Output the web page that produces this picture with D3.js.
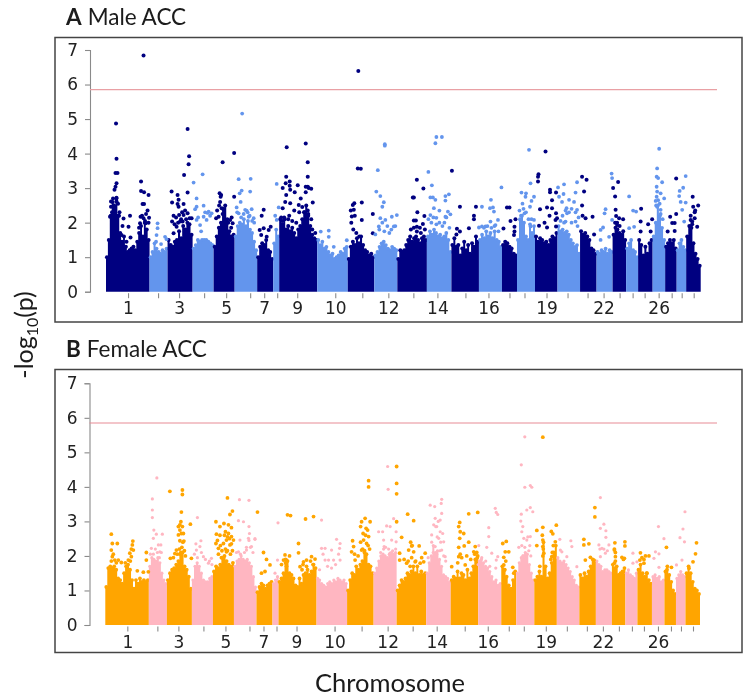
<!DOCTYPE html>
<html><head><meta charset="utf-8">
<script src="https://cdn.jsdelivr.net/npm/d3@7/dist/d3.min.js"></script>
<style>html,body{margin:0;padding:0;background:#fff}svg{display:block}</style>
</head><body><div id="chart"></div>
<script>
// Chromosome lengths in genome units, tick locations and labels
const chrLengths=[87,36,50,42,42,45,32,12,76,61,53,46,59,49,55,46,30,36,45,45,33,32,27,24,29,25,23,19,29];
const tickPositions=[44,104,146,196,240,288,316,342,382,458,512,564,614,662,718,764,806,836,880,922,962,994,1026,1052,1076,1104,1130,1150,1174];
const chrNames=[1,2,3,4,5,6,7,8,9,10,11,12,13,14,15,16,17,18,19,20,21,22,23,24,25,26,27,28,29];
const shownChr=[1,3,5,7,9,10,12,14,16,19,22,26];
const yTicks=[0,1,2,3,4,5,6,7];
const threshold=5.85;

// Top edge of the solid mass of SNPs along each chromosome, -log10(p)
const maleBody=[
[1.0,1.5,2.2,2.6,2.4,2.7,2.2,1.7,1.45,1.6,1.3,1.15,1.2,1.25,1.3,1.2,1.45,1.7,1.9,1.6,2.0,1.8,1.5],
[1.0,1.15,1.4,1.25,1.15,1.1,1.2,1.15,1.25],
[1.5,1.35,1.3,1.45,1.5,1.75,1.55,1.9,1.8,2.0,1.95,1.65],
[1.25,1.35,1.5,1.45,1.5,1.5,1.5,1.45,1.4,1.35],
[1.3,1.6,1.85,2.0,2.4,2.5,2.1,1.75,1.6,1.65],
[1.6,1.9,2.0,1.95,2.1,1.9,2.05,1.8,1.7,1.45,1.2],
[1.0,1.3,1.4,1.35,1.5,1.2,1.15,0.95],
[1.4,1.8,1.6],
[2.1,1.95,2.15,1.8,1.9,1.75,1.85,1.7,1.55,1.8,1.9,2.1,2.3,2.5,2.2,1.9,1.65,1.55,1.5],
[1.5,1.35,1.45,1.25,1.3,1.15,1.05,1.1,0.95,1.0,1.05,1.15,1.1,1.25,1.3],
[0.95,1.3,1.45,1.35,1.55,1.4,1.6,1.35,1.2,1.15,1.05,1.1,1.0],
[1.05,1.15,1.3,1.4,1.45,1.35,1.25,1.2,1.3,1.25,1.2],
[0.95,1.2,1.15,1.2,1.35,1.5,1.6,1.45,1.55,1.6,1.5,1.4,1.55,1.6,1.5],
[1.6,1.75,1.65,1.8,1.7,1.6,1.65,1.55,1.6,1.7,1.5,1.15],
[1.35,1.55,1.3,1.35,1.05,1.25,1.45,1.2,1.35,1.1,1.4,1.3,1.6,1.45],
[1.5,1.65,1.55,1.75,1.6,1.7,1.55,1.75,1.5,1.45,1.3],
[1.35,1.45,1.4,1.3,1.25,1.1,1.05],
[1.5,2.1,2.2,2.0,1.6,1.5,1.95,1.7,1.9],
[1.6,1.45,1.55,1.5,1.4,1.45,1.35,1.5,1.6,1.55,1.7],
[1.9,1.75,1.8,1.7,1.75,1.65,1.5,1.4,1.3,1.35,1.1],
[1.75,1.65,1.7,1.6,1.5,1.25,1.2,1.1],
[1.15,1.1,1.2,1.15,1.25,1.1,1.2,1.15],
[1.65,1.85,1.8,1.7,1.65,1.75,1.5],
[1.25,1.4,1.5,1.2,1.15,1.0],
[1.5,1.35,1.05,1.3,1.1,1.4,1.5],
[1.6,2.0,2.5,2.2,1.85,1.5],
[1.3,1.4,1.5,1.4,1.5,1.25],
[1.2,1.4,1.5,1.3,1.2],
[1.6,1.9,1.85,1.4,1.1,0.95,0.75]];

const femaleBody=[
[1.1,1.65,1.7,1.65,1.7,1.6,1.35,1.3,1.2,1.5,1.7,1.75,1.6,1.3,1.05,1.3,1.2,1.35,1.25,1.3,1.25,1.3],
[1.7,1.95,1.9,1.85,1.95,1.8,1.5,1.3,1.2],
[1.3,1.5,1.6,1.65,1.75,1.85,2.05,2.1,1.7,1.6,1.4,1.05],
[1.3,1.7,1.8,1.7,1.5,1.3,1.25,1.25,1.35,1.4],
[1.55,1.7,1.65,1.75,1.95,2.0,1.85,1.75,1.7,1.8],
[1.7,1.85,1.9,2.0,1.9,1.85,1.9,1.8,1.7,1.4,1.1],
[0.95,1.1,1.2,1.15,1.05,1.15,1.2,1.25],
[1.2,1.3,1.4],
[1.25,1.35,1.5,1.8,1.85,1.5,1.45,1.35,1.15,1.1,1.35,1.2,1.45,1.5,1.6,1.45,1.55,1.75,1.65],
[1.35,1.3,1.2,1.15,1.1,1.2,1.25,1.2,1.3,1.25,1.35,1.3,1.25,1.3,1.2],
[1.0,1.3,1.5,1.45,1.7,1.6,1.75,1.85,2.1,2.05,1.75,1.7,1.5],
[1.5,1.65,1.85,2.0,2.05,2.0,1.95,2.05,2.1,2.05,2.1],
[1.0,1.15,1.3,1.25,1.35,1.5,1.45,1.55,1.7,1.5,1.7,1.45,1.55,1.45,1.5],
[1.5,1.8,2.0,2.3,2.1,2.15,1.9,1.7,1.45,1.4,1.35,1.25],
[1.3,1.4,1.35,1.55,1.35,1.5,1.45,1.3,1.6,1.35,1.5,1.7,1.9,1.95],
[1.85,1.9,1.8,1.7,1.65,1.55,1.4,1.25,1.3,1.15,1.2],
[1.7,1.6,1.4,1.15,1.05,1.3,1.55],
[1.5,1.8,1.95,2.0,2.1,2.05,1.75,1.5,1.3],
[1.3,1.4,1.55,1.4,2.4,1.7,1.35,1.5,1.8,2.1,2.3],
[1.95,1.85,1.8,1.85,1.75,1.65,1.55,1.4,1.3,1.15,1.1],
[1.45,1.35,1.5,1.4,1.55,1.7,1.9,1.85],
[1.85,1.75,1.7,1.55,1.6,1.6,1.55,1.5],
[1.75,1.65,1.7,1.45,1.5,1.55,1.65],
[1.5,1.6,1.45,1.4,1.35,1.5],
[1.6,1.75,1.5,1.4,1.5,1.3,1.2],
[1.4,1.45,1.35,1.4,1.25,1.3],
[1.55,1.7,1.45,1.25,1.0,0.9],
[1.35,1.45,1.55,1.45,1.4],
[1.5,1.7,1.5,1.25,1.05,1.0,0.9]];

// Individual SNPs standing above the mass: [genome position, -log10(p)]
const maleSnps=[
[75,6.84],[20,4.87],[21,3.85],[19,3.44],[23,3.44],[21,3.14],[19,3.04],[17,2.95],[21,2.72],[10,2.61],[21,2.61],[10,2.46],[18,2.46],[8,2.17],[35,2.12],[48,2.2],[45,1.88],[33,1.9],[31,1.64],[49,1.57],[41,1.45],
[12,2.3],[16,2.5],[24,2.55],[27,2.3],[14,2.7],[26,2.2],[72,2.2],[80,2.25],[66,1.85],[85,2.0],[78,2.05],
[70,3.19],[70,2.92],[76,2.88],[85,2.8],[73,2.54],[76,2.54],[83,2.35],[69,2.17],[75,2.13],[86,2.14],[79,1.98],[68,1.98],
[103,1.98],[103,1.84],[101,1.64],[118,1.59],[121,1.52],[110,1.38],[100,1.45],
[131,2.9],[143,2.8],[132,2.58],[145,2.66],[143,2.54],[155,2.54],[145,2.46],[146,2.22],[155,2.22],[132,2.03],[141,1.88],[153,2.03],[163,4.71],[166,3.92],[165,3.69],[156,3.38],[163,2.87],[163,2.27],[171,2.13],[167,2.13],[135,1.69],[148,2.03],
[135,2.2],[140,2.15],[150,2.1],[158,2.35],[144,2.0],[160,2.1],[137,1.95],[152,2.3],
[193,3.4],[175,3.16],[181,2.7],[195,2.49],[181,2.46],[178,2.39],[205,2.32],[211,2.27],[195,2.17],[181,2.08],[188,1.93],[201,2.08],
[184,2.15],[190,1.75],[198,2.3],[203,2.28],[208,2.2],
[233,3.75],[256,4.02],[227,2.85],[230,2.8],[228,2.6],[231,2.42],[225,2.17],[220,2.13],[256,2.75],[251,2.15],[248,2.08],[253,1.98],
[222,2.35],[226,2.5],[229,2.75],[233,2.25],[244,2.0],[250,1.85],
[272,5.16],[265,3.26],[289,3.27],[271,2.93],[288,2.9],[267,2.85],[269,2.6],[261,2.44],[278,2.37],[291,2.39],[265,2.27],[285,2.17],[295,2.13],
[262,2.3],[270,2.15],[275,2.25],[283,2.3],[287,2.2],[292,2.05],[296,2.0],[281,2.35],
[315,2.37],[311,2.2],[307,1.79],[315,1.84],[329,1.88],[325,1.79],[310,1.64],[321,1.59],
[341,3.12],[345,2.44],[338,2.2],[341,2.08],
[361,4.18],[399,4.29],[403,3.75],[360,3.33],[403,3.33],[359,3.14],[367,3.19],[367,3.07],[383,3.08],[353,3.0],[368,2.95],[399,3.04],[403,3.04],[405,3.0],[410,2.98],[360,2.8],[377,2.88],[399,2.88],[389,2.7],[413,2.58],[368,2.56],[385,2.51],[353,2.42],[403,2.35],
[350,2.15],[357,2.1],[364,2.1],[372,2.05],[380,2.0],[386,2.3],[392,2.45],[396,2.3],[404,2.25],[410,2.1],[358,2.6],[366,2.2],[376,2.35],[352,2.05],[412,1.8],[418,1.7],
[429,1.74],[445,1.77],[445,1.59],[455,1.3],[481,1.49],
[504,6.39],[503,3.57],[509,3.56],[496,2.56],[493,2.51],[511,2.58],[489,2.35],[495,2.37],[491,2.18],[511,2.08],[533,2.25],[533,1.69],
[490,2.0],[494,1.8],[500,1.7],[506,1.6],[497,2.2],
[557,4.27],[557,4.23],[543,3.52],[540,2.9],[548,2.77],[555,2.59],[552,2.46],[571,2.17],[581,2.22],[548,2.13],[545,1.89],[558,2.08],[575,1.89],[538,1.66],
[546,1.8],[552,2.0],[562,1.9],[566,1.7],[570,1.8],[578,1.9],[556,1.75],
[621,3.24],[634,2.99],[613,2.73],[615,2.73],[622,2.3],[636,2.19],[615,2.06],[619,2.06],[633,1.96],[621,1.88],[621,1.74],
[609,1.8],[615,1.85],[627,1.85],[637,1.8],[629,1.7],
[660,4.48],[671,4.48],[658,4.3],[644,3.47],[691,3.5],[651,3.08],[648,2.73],[653,2.73],[658,2.66],[685,2.82],[678,2.77],[678,2.64],[655,2.42],[666,2.35],[683,2.32],[688,2.24],[648,2.22],[660,2.14],[678,2.17],
[644,2.1],[650,2.0],[654,2.15],[660,1.95],[666,2.0],[672,1.9],[680,2.15],[676,2.0],[686,1.85],
[707,2.46],[739,2.46],[735,2.2],[735,2.1],[701,1.82],[707,1.74],[725,1.84],[745,1.86],[700,1.66],
[790,3.02],[769,2.66],[751,2.46],[767,2.42],[773,2.44],[775,2.32],[783,2.08],[768,2.03],[758,1.89],[751,1.89],[778,1.93],
[755,1.85],[762,1.9],[770,1.85],[776,1.9],[784,1.75],
[801,2.44],[806,2.44],[818,2.1],[808,2.05],[816,1.88],[816,1.74],[794,1.83],[815,1.64],
[845,4.11],[830,2.87],[839,2.85],[848,3.14],[855,2.75],[850,2.63],[838,2.75],[826,2.35],[836,2.27],[847,2.46],[855,2.08],[828,2.08],[848,1.89],
[832,2.55],[834,2.4],[829,2.2],[839,2.3],[844,2.1],[850,2.1],
[878,4.06],[864,3.4],[863,3.33],[863,3.19],[887,2.95],[887,2.88],[903,3.02],[899,2.87],[891,2.65],[867,2.39],[881,2.44],[891,2.42],[899,2.27],[886,2.2],[865,1.91],[876,2.0],[881,1.86],[898,2.08],[901,2.13],[899,1.89],
[915,3.11],[914,2.83],[941,3.17],[938,2.87],[905,2.75],[911,2.6],[925,2.66],[935,2.6],[920,2.42],[941,2.37],[921,2.27],[938,2.03],[918,2.03],
[912,2.2],[918,2.35],[925,2.3],[930,2.4],[938,2.3],[944,2.15],[908,2.05],[915,2.0],[930,2.0],[942,1.9],
[951,3.33],[960,3.24],[955,2.9],[951,2.5],[952,2.2],[958,2.13],[972,2.17],[975,1.66],
[998,2.39],[996,2.27],[993,1.86],[988,1.79],[1011,2.08],[1005,1.59],[988,1.5],
[1010,3.42],[1011,3.29],[1023,3.18],[1013,3.0],[1017,2.76],[1018,2.37],[1019,2.19],[1033,2.1],[1025,2.13],[1021,1.93],
[1017,2.0],[1021,2.0],[1026,1.9],
[1045,2.76],[1053,2.35],[1059,2.32],[1055,1.88],[1045,1.84],
[1069,2.4],[1068,2.03],[1083,1.95],[1091,2.1],[1068,1.74],[1088,1.74],
[1105,4.14],[1101,3.57],[1100,3.33],[1103,3.29],[1111,3.17],[1100,3.04],[1101,2.9],[1108,2.85],[1115,2.7],[1098,2.63],[1108,2.37],[1101,2.46],
[1100,2.75],[1103,2.65],[1106,2.55],[1099,2.5],[1108,2.25],[1112,2.1],
[1139,3.28],[1127,2.17],[1122,1.74],[1131,1.99],[1136,1.99],[1139,2.25],[1136,1.76],
[1158,3.35],[1153,3.01],[1146,2.92],[1145,2.77],[1148,2.6],[1158,2.58],[1151,2.37],[1155,2.03],
[1172,2.75],[1183,2.5],[1173,2.46],[1177,2.35],[1176,2.13],[1168,2.08],[1181,1.88],[1171,2.03],
[1168,2.2],[1176,2.3],[1171,1.95]];

const femaleSnps=[
[12,2.63],[14,2.36],[24,2.36],[55,2.43],[54,2.32],[56,2.17],[49,2.08],[12,2.17],[14,1.98],[19,1.88],[26,1.88],[32,1.81],[46,1.88],[82,2.1],[82,1.88],[64,1.57],[76,1.53],[86,1.54],[52,1.98],
[12,1.85],[16,2.05],[52,2.2],[50,1.85],[40,1.8],[22,1.8],
[103,4.26],[94,3.65],[94,3.33],[94,3.11],[97,2.75],[102,2.63],[114,2.63],[96,2.51],[106,2.32],[111,2.32],[92,2.22],[109,2.12],
[100,2.2],[104,2.1],[96,2.05],[112,2.1],[108,1.95],[90,2.05],
[129,3.87],[154,3.91],[154,3.78],[152,3.27],[151,2.99],[170,2.92],[146,2.85],[154,2.85],[149,2.75],[156,2.65],[146,2.61],[149,2.44],[157,2.43],[172,1.93],[142,2.17],[130,1.93],[139,2.07],
[149,2.9],[152,2.65],[155,2.4],[148,2.2],[153,2.25],[158,2.15],[144,2.05],[160,2.0],[136,1.95],[151,2.1],
[184,3.11],[191,2.44],[181,2.35],[189,2.27],[182,2.17],[196,1.98],[212,1.93],[206,1.79],
[178,2.05],[184,1.95],[192,2.1],[200,1.9],[208,1.85],[213,1.75],
[244,3.68],[254,3.3],[249,3.2],[221,2.99],[237,2.94],[246,2.9],[229,2.85],[252,2.82],[222,2.63],[229,2.6],[246,2.65],[252,2.56],[221,2.36],[242,2.46],[236,2.36],[256,2.46],[249,2.32],[226,2.22],[242,2.12],
[224,2.45],[230,2.3],[233,2.15],[238,2.6],[240,2.7],[244,2.55],[248,2.5],[252,2.35],[240,2.2],[254,2.15],[226,2.05],[232,1.95],[244,2.15],[250,2.05],
[268,3.63],[287,3.61],[304,3.27],[266,3.02],[276,2.99],[287,2.85],[288,2.65],[286,2.51],[299,2.48],[299,2.5],[269,2.46],[266,2.12],[292,2.27],[282,2.17],
[262,2.1],[270,2.05],[278,2.1],[282,2.25],[290,2.25],[295,2.1],[287,2.45],
[316,2.1],[322,1.9],[329,1.74],[319,1.55],[312,1.5],
[345,2.96],[344,1.88],[339,1.5],
[364,3.19],[370,3.17],[400,3.07],[416,3.14],[386,2.36],[386,2.09],[359,2.03],[368,2.0],[356,1.88],[412,1.98],[419,1.91],[402,1.88],[396,1.83],[389,1.69],[362,1.88],
[352,1.75],[360,1.9],[362,1.7],[395,1.75],[402,1.7],[410,1.85],[415,1.75],[393,1.6],
[432,3.04],[462,2.48],[469,2.36],[468,2.22],[432,2.22],[439,2.22],[452,2.17],[456,1.88],[446,1.88],[469,1.88],[439,1.88],
[435,2.05],[444,1.7],[452,1.65],[460,1.75],[466,2.05],[428,1.6],
[526,4.18],[526,4.0],[519,3.09],[529,2.99],[512,2.99],[510,2.85],[521,2.8],[526,2.56],[516,2.46],[494,2.44],[496,2.27],[492,2.12],[499,1.88],[512,2.17],[522,2.36],
[515,2.65],[520,2.6],[525,2.3],[510,2.4],[505,2.0],[498,2.05],[514,2.2],[518,2.15],[524,2.75],[528,2.2],
[546,2.7],[564,4.59],[582,4.59],[582,4.1],[565,3.93],[582,3.8],[576,3.08],[582,2.99],[562,2.87],[569,2.85],[554,2.7],[581,2.7],[556,2.46],[572,2.46],[581,2.41],[557,2.27],[569,2.08],
[556,2.2],[560,2.25],[566,2.2],[574,2.15],[580,2.2],[550,2.1],
[604,3.21],[616,3.02],[592,2.54],[588,2.08],[588,1.88],[612,2.29],[627,2.29],[606,2.17],[616,2.12],[639,2.08],[619,1.83],[636,1.83],[602,1.79],[629,1.79],
[597,1.9],[605,1.85],[612,1.95],[620,1.85],[632,1.95],[609,1.7],[613,2.3],[610,2.4],
[672,3.64],[671,3.52],[649,3.47],[658,3.43],[672,3.23],[659,3.09],[669,3.04],[662,2.85],[669,2.7],[652,2.61],[674,2.65],[666,2.51],[676,2.41],[659,2.27],[672,2.17],[679,1.98],
[652,2.4],[656,2.9],[660,2.85],[665,3.0],[663,2.55],[670,2.4],[655,2.1],[662,2.05],[668,2.15],[676,2.0],[680,1.85],[645,1.95],
[726,3.22],[744,3.26],[708,2.97],[706,2.85],[709,2.7],[716,2.65],[708,2.51],[726,2.4],[717,2.29],[739,2.27],[746,2.3],[706,1.98],[736,2.12],[692,1.69],[719,1.74],
[706,2.25],[709,2.05],[712,1.95],[704,1.8],[730,1.9],[738,2.05],[742,2.1],[744,2.0],[722,2.0],[745,1.75],
[779,3.38],[784,3.2],[781,3.26],[766,2.82],[766,2.56],[762,2.25],[772,2.08],[784,1.98],[781,1.88],
[752,1.95],[760,1.85],[768,1.7],[780,1.65],
[801,2.42],[794,2.36],[799,2.12],[806,2.12],[796,1.96],[814,1.67],[796,1.74],[800,1.85],[798,1.6],[816,1.5],
[838,5.45],[831,4.64],[838,3.99],[849,4.04],[852,3.99],[849,3.4],[854,3.28],[831,3.21],[842,3.33],[830,3.01],[834,2.85],[832,2.7],[849,2.56],[836,2.51],[842,2.46],[826,2.25],[836,1.98],
[832,2.3],[838,2.25],[844,2.55],[848,2.3],[846,2.15],[850,2.0],[840,2.05],[834,2.0],
[874,5.44],[874,2.83],[862,2.74],[891,2.71],[901,2.89],[894,2.64],[874,2.46],[874,2.27],[899,2.41],[862,2.3],[876,2.08],[892,1.98],
[873,2.6],[875,2.2],[895,2.3],[893,2.1],[868,1.7],[890,1.9],[874,2.0],
[908,2.48],[930,2.44],[912,2.12],[922,1.98],[942,1.69],[932,2.27],[909,2.17],
[978,3.4],[978,3.13],[956,2.48],[966,2.35],[956,2.32],[969,1.96],[959,1.88],[976,1.88],
[989,3.69],[996,2.92],[989,2.8],[1000,2.73],[1000,2.54],[986,2.32],[992,2.22],[1006,2.32],[989,1.98],[999,2.08],[988,2.2],[996,2.2],[1003,2.15],
[1018,2.38],[1038,2.41],[1038,2.29],[1017,2.17],[1032,1.96],[1037,1.93],[1019,1.98],[1017,1.79],[1017,2.2],[1019,2.1],[1019,1.85],[1035,1.9],
[1054,2.08],[1062,1.83],[1054,1.79],
[1069,2.09],[1079,2.0],[1086,2.0],[1068,1.88],[1076,1.79],[1082,1.5],[1072,1.95],[1076,1.9],
[1105,2.85],[1116,2.5],[1099,2.12],[1106,2.06],[1096,1.93],[1106,1.67],
[1121,2.25],[1131,1.67],[1122,1.6],
[1158,3.28],[1154,2.78],[1148,2.53],[1157,2.41],[1152,1.88],[1141,1.74],
[1181,2.38],[1179,2.06],[1174,1.83],[1166,1.64]];

const colorsMale=["#000080","#6495ED"];
const colorsFemale=["#FFA500","#FFB6C1"];

const W=745,H=698;
const svg=d3.select("#chart").append("svg").attr("width",W).attr("height",H);
const defs=svg.append("defs");
defs.append("filter").attr("id","soft").attr("x","-2%").attr("y","-2%").attr("width","104%").attr("height","104%")
  .append("feGaussianBlur").attr("stdDeviation",0.4);
const root=svg.append("g").attr("filter","url(#soft)");

const chrEnds=Array.from(d3.cumsum(chrLengths));
const chrStarts=[0,...chrEnds.slice(0,-1)];
const chrOf=p=>Math.min(d3.bisectRight(chrEnds,p),chrLengths.length-1);
const textFont="Lato, 'Open Sans', sans-serif";
const numFont="'DejaVu Sans', sans-serif";

function panel(o){
  root.append("rect").attr("x",o.frame[0]).attr("y",o.frame[1]).attr("width",742-o.frame[0]).attr("height",o.frame[2]-o.frame[1])
    .attr("fill","#fff").attr("stroke","#444").attr("stroke-width",1.5);
  const t=root.append("text").attr("x",66).attr("y",o.titleY).attr("font-family",textFont).attr("font-size",22.5).attr("fill","#1a1a1a");
  t.append("tspan").attr("font-weight",700).text(o.letter);
  t.append("tspan").attr("dx",6).text(o.title);

  const x=d3.scaleLinear().domain([0,d3.sum(chrLengths)]).range(o.xRange);
  const y=d3.scaleLinear().domain([0,7]).range(o.yRange);

  const yAx=root.append("g").attr("transform",`translate(${o.axisX},0)`)
    .call(d3.axisLeft(y).tickValues(yTicks).tickSize(5).tickPadding(7).tickFormat(d3.format("d")));
  const xAx=root.append("g").attr("transform",`translate(0,${o.yRange[0]+1.5})`)
    .call(d3.axisBottom(x).tickValues(tickPositions).tickSize(5).tickPadding(4)
      .tickFormat((d,i)=>shownChr.includes(chrNames[i])?chrNames[i]:""));
  xAx.select(".domain").remove();
  [yAx,xAx].forEach(a=>{
    a.selectAll("line,path").attr("stroke","#8a8a8a").attr("stroke-width",1.1);
    a.selectAll("text").attr("font-family",numFont).attr("font-size",17).attr("fill","#222");
  });

  const area=d3.area().curve(d3.curveStepAfter).x(d=>x(d.p)).y0(y(0)).y1(d=>y(d.v));
  chrLengths.forEach((len,c)=>{
    const vals=o.body[c];
    const n=vals.length;
    const edges=vals.map((v,i)=>({p:chrStarts[c]+len*i/n,v})).concat([{p:chrStarts[c]+len,v:vals[n-1]}]);
    const tops=vals.map((v,i)=>({p:chrStarts[c]+len*(i+0.5)/n,v}));
    const col=o.colors[c%2];
    const r=c%2?o.r2:o.r;
    root.append("path").datum(edges).attr("d",area).attr("fill",col);
    root.append("g").selectAll("circle").data(tops).join("circle")
      .attr("cx",d=>x(d.p)).attr("cy",d=>y(d.v)).attr("r",r).attr("fill",col);
  });

  root.append("line").attr("x1",o.axisX).attr("x2",717).attr("y1",y(threshold)).attr("y2",y(threshold))
    .attr("stroke",o.lineColor).attr("stroke-width",1.2);

  root.append("g").selectAll("circle").data(o.snps).join("circle")
    .attr("cx",d=>x(d[0])).attr("cy",d=>y(d[1])).attr("r",d=>chrOf(d[0])%2?o.r2:o.r)
    .attr("fill",d=>o.colors[chrOf(d[0])%2]);
}

panel({frame:[55,37.5,322],titleY:25,letter:"A",title:"Male ACC",xRange:[106,700.7],yRange:[291.7,50],axisX:90,
  body:maleBody,snps:maleSnps,colors:colorsMale,lineColor:"#e9a0a4",r:2.0,r2:1.9});
panel({frame:[55,369.5,652.5],titleY:357,letter:"B",title:"Female ACC",xRange:[105.3,700],yRange:[625,383.3],axisX:89.5,
  body:femaleBody,snps:femaleSnps,colors:colorsFemale,lineColor:"#e88c96",r:1.9,r2:1.6});

const yl=root.append("text").attr("transform","translate(33,335) rotate(-90)").attr("text-anchor","middle")
  .attr("font-family",textFont).attr("font-size",25).attr("fill","#1a1a1a");
yl.append("tspan").text("-log");
yl.append("tspan").attr("font-size",16).attr("dy",5).text("10");
yl.append("tspan").attr("dy",-5).text("(p)");
root.append("text").attr("x",390).attr("y",692).attr("text-anchor","middle")
  .attr("font-family",textFont).attr("font-size",25.5).attr("fill","#1a1a1a").text("Chromosome");
</script></body></html>
